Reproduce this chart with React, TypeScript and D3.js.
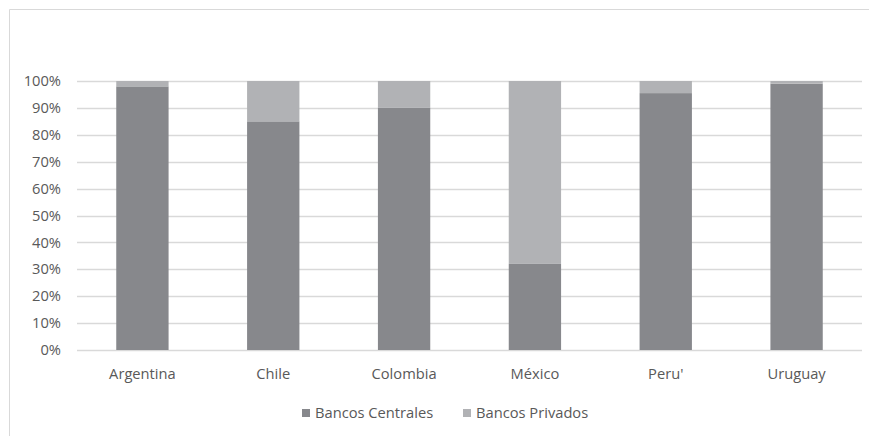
import React from "react";
import * as d3 from "d3";

const categories = ["Argentina", "Chile", "Colombia", "México", "Peru'", "Uruguay"];
const centrales = [98, 85, 90, 32, 95.5, 99];
const privados = [2, 15, 10, 68, 4.5, 1];
const seriesNames = ["Bancos Centrales", "Bancos Privados"];
const seriesColors = ["#87888c", "#b1b2b5"];
const yTicks = [0, 10, 20, 30, 40, 50, 60, 70, 80, 90, 100];

const W = 869;
const H = 436;
const FONT = "'Open Sans', sans-serif";
const TEXT = "#595959";
const FS = 14.7;

export default function App() {
  const x = d3.scaleBand<string>().domain(categories).range([77, 862]).paddingInner(0.6).paddingOuter(0.3);
  const y = d3.scaleLinear().domain([0, 100]).range([350, 81]);
  const rows = categories.map((c, i) => ({ cat: c, c0: centrales[i], c1: privados[i] }));
  const stack = d3.stack<any>().keys(["c0", "c1"])(rows);

  return (
    <svg width={W} height={H} style={{ position: "absolute", left: 0, top: 0, fontFamily: FONT }}>
      <rect x={0} y={0} width={W} height={H} fill="#fff" />
      <line x1={9.5} y1={9.5} x2={W} y2={9.5} stroke="#d9d9d9" />
      <line x1={9.5} y1={9.5} x2={9.5} y2={H} stroke="#d9d9d9" />
      {yTicks.map((t) => (
        <g key={t}>
          <line x1={77} x2={862} y1={Math.round(y(t)) + 0.5} y2={Math.round(y(t)) + 0.5} stroke="#d9d9d9" strokeWidth={1.3} />
          <text x={61} y={y(t)} dy="0.35em" textAnchor="end" fontSize={FS} fill={TEXT}>
            {t}%
          </text>
        </g>
      ))}
      {stack.map((s, si) =>
        s.map((d, i) => (
          <rect
            key={si + "-" + i}
            x={x(categories[i])}
            width={x.bandwidth()}
            y={y(d[1])}
            height={y(d[0]) - y(d[1])}
            fill={seriesColors[si]}
          />
        ))
      )}
      {categories.map((c) => (
        <text key={c} x={(x(c) || 0) + x.bandwidth() / 2} y={378.5} textAnchor="middle" fontSize={FS} fill={TEXT}>
          {c}
        </text>
      ))}
      {seriesNames.map((n, i) => {
        const lx = i === 0 ? 302 : 463;
        return (
          <g key={n}>
            <rect x={lx} y={409} width={8} height={8} fill={seriesColors[i]} />
            <text x={lx + 13} y={417.5} fontSize={FS} fill={TEXT}>
              {n}
            </text>
          </g>
        );
      })}
    </svg>
  );
}
